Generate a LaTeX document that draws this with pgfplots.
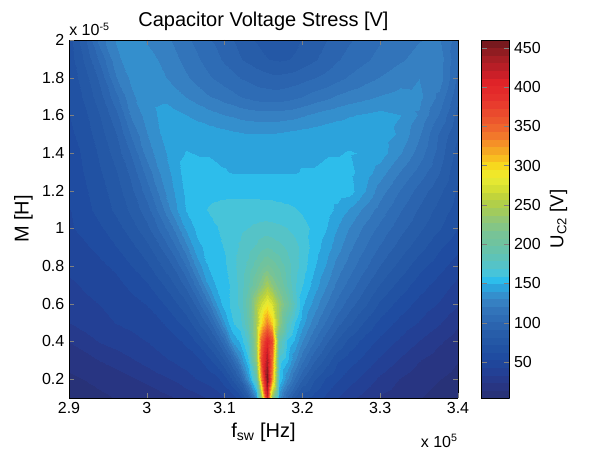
\documentclass[border=0pt]{standalone}
\usepackage{fontspec}
\setmainfont{Liberation Sans}
\usepackage{pgfplots}
\usepackage{pgfplotstable}
\pgfplotsset{compat=1.18}
\pgfplotstableread{
x y z
2.90 0.1 8
2.92 0.1 10
2.94 0.1 12
2.96 0.1 14
2.98 0.1 16
3.00 0.1 17
3.02 0.1 20
3.035 0.1 23
3.05 0.1 27
3.065 0.1 30
3.08 0.1 34
3.09 0.1 38
3.10 0.1 43
3.11 0.1 47
3.12 0.1 57
3.13 0.1 80
3.14 0.1 132
3.147 0.1 230
3.154 0.1 415
3.161 0.1 230
3.17 0.1 135
3.18 0.1 100
3.19 0.1 80
3.20 0.1 65
3.215 0.1 58
3.23 0.1 50
3.245 0.1 43
3.26 0.1 36
3.28 0.1 29
3.30 0.1 22
3.325 0.1 17
3.35 0.1 14
3.375 0.1 11
3.40 0.1 8
2.90 0.2 12
2.92 0.2 14
2.94 0.2 16
2.96 0.2 18
2.98 0.2 22
3.00 0.2 26
3.02 0.2 31
3.035 0.2 34
3.05 0.2 39
3.065 0.2 43
3.08 0.2 47
3.09 0.2 50
3.10 0.2 59
3.11 0.2 73
3.12 0.2 93
3.13 0.2 137
3.14 0.2 185
3.147 0.2 330
3.154 0.2 458
3.161 0.2 330
3.17 0.2 160
3.18 0.2 132
3.19 0.2 109
3.20 0.2 92
3.215 0.2 73
3.23 0.2 61
3.245 0.2 54
3.26 0.2 47
3.28 0.2 39
3.30 0.2 31
3.325 0.2 23
3.35 0.2 17
3.375 0.2 14
3.40 0.2 11
2.90 0.3 17
2.92 0.3 19
2.94 0.3 24
2.96 0.3 28
2.98 0.3 32
3.00 0.3 37
3.02 0.3 41
3.035 0.3 44
3.05 0.3 47
3.065 0.3 50
3.08 0.3 60
3.09 0.3 69
3.10 0.3 83
3.11 0.3 100
3.12 0.3 130
3.13 0.3 158
3.14 0.3 230
3.147 0.3 365
3.154 0.3 432
3.161 0.3 345
3.17 0.3 165
3.18 0.3 152
3.19 0.3 131
3.20 0.3 114
3.215 0.3 93
3.23 0.3 78
3.245 0.3 64
3.26 0.3 57
3.28 0.3 49
3.30 0.3 41
3.325 0.3 32
3.35 0.3 24
3.375 0.3 18
3.40 0.3 14
2.90 0.4 24
2.92 0.4 29
2.94 0.4 34
2.96 0.4 37
2.98 0.4 40
3.00 0.4 43
3.02 0.4 47
3.035 0.4 49
3.05 0.4 55
3.065 0.4 64
3.08 0.4 78
3.09 0.4 91
3.10 0.4 112
3.11 0.4 140
3.12 0.4 152
3.13 0.4 172
3.14 0.4 240
3.147 0.4 350
3.154 0.4 400
3.161 0.4 368
3.17 0.4 190
3.18 0.4 158
3.19 0.4 147
3.20 0.4 131
3.215 0.4 111
3.23 0.4 94
3.245 0.4 81
3.26 0.4 69
3.28 0.4 58
3.30 0.4 50
3.325 0.4 41
3.35 0.4 33
3.375 0.4 25
3.40 0.4 18
2.90 0.5 33
2.92 0.5 37
2.94 0.5 40
2.96 0.5 43
2.98 0.5 45
3.00 0.5 48
3.02 0.5 52
3.035 0.5 59
3.05 0.5 66
3.065 0.5 79
3.08 0.5 96
3.09 0.5 117
3.10 0.5 141
3.11 0.5 158
3.12 0.5 165
3.13 0.5 190
3.14 0.5 242
3.147 0.5 295
3.154 0.5 335
3.161 0.5 305
3.17 0.5 232
3.18 0.5 180
3.19 0.5 158
3.20 0.5 144
3.215 0.5 125
3.23 0.5 109
3.245 0.5 95
3.26 0.5 84
3.28 0.5 70
3.30 0.5 59
3.325 0.5 49
3.35 0.5 42
3.375 0.5 34
3.40 0.5 25
2.90 0.6 38
2.92 0.6 41
2.94 0.6 43
2.96 0.6 46
2.98 0.6 49
3.00 0.6 53
3.02 0.6 61
3.035 0.6 69
3.05 0.6 80
3.065 0.6 95
3.08 0.6 120
3.09 0.6 142
3.10 0.6 155
3.11 0.6 162
3.12 0.6 172
3.13 0.6 195
3.14 0.6 245
3.147 0.6 268
3.154 0.6 288
3.161 0.6 273
3.17 0.6 235
3.18 0.6 205
3.19 0.6 175
3.20 0.6 152
3.215 0.6 136
3.23 0.6 121
3.245 0.6 108
3.26 0.6 96
3.28 0.6 83
3.30 0.6 70
3.325 0.6 58
3.35 0.6 49
3.375 0.6 42
3.40 0.6 34
2.90 0.7 41
2.92 0.7 44
2.94 0.7 46
2.96 0.7 49
2.98 0.7 55
3.00 0.7 61
3.02 0.7 71
3.035 0.7 81
3.05 0.7 94
3.065 0.7 115
3.08 0.7 142
3.09 0.7 152
3.10 0.7 155
3.11 0.7 162
3.12 0.7 172
3.13 0.7 186
3.14 0.7 210
3.147 0.7 225
3.154 0.7 245
3.161 0.7 228
3.17 0.7 210
3.18 0.7 188
3.19 0.7 170
3.20 0.7 160
3.215 0.7 145
3.23 0.7 131
3.245 0.7 118
3.26 0.7 107
3.28 0.7 93
3.30 0.7 81
3.325 0.7 68
3.35 0.7 57
3.375 0.7 48
3.40 0.7 40
2.90 0.8 45
2.92 0.8 47
2.94 0.8 50
2.96 0.8 55
2.98 0.8 62
3.00 0.8 70
3.02 0.8 82
3.035 0.8 93
3.05 0.8 111
3.065 0.8 134
3.08 0.8 151
3.09 0.8 155
3.10 0.8 158
3.11 0.8 165
3.12 0.8 173
3.13 0.8 181
3.14 0.8 193
3.147 0.8 202
3.154 0.8 210
3.161 0.8 205
3.17 0.8 196
3.18 0.8 184
3.19 0.8 173
3.20 0.8 165
3.215 0.8 151
3.23 0.8 139
3.245 0.8 126
3.26 0.8 116
3.28 0.8 103
3.30 0.8 91
3.325 0.8 78
3.35 0.8 66
3.375 0.8 56
3.40 0.8 47
2.90 0.9 48
2.92 0.9 51
2.94 0.9 56
2.96 0.9 62
2.98 0.9 69
3.00 0.9 79
3.02 0.9 93
3.035 0.9 108
3.05 0.9 127
3.065 0.9 147
3.08 0.9 153
3.09 0.9 157
3.10 0.9 160
3.11 0.9 165
3.12 0.9 170
3.13 0.9 175
3.14 0.9 180
3.147 0.9 185
3.154 0.9 188
3.161 0.9 186
3.17 0.9 182
3.18 0.9 177
3.19 0.9 172
3.20 0.9 166
3.215 0.9 155
3.23 0.9 145
3.245 0.9 134
3.26 0.9 123
3.28 0.9 111
3.30 0.9 100
3.325 0.9 87
3.35 0.9 76
3.375 0.9 64
3.40 0.9 55
2.90 1.0 51
2.92 1.0 56
2.94 1.0 61
2.96 1.0 68
2.98 1.0 77
3.00 1.0 89
3.02 1.0 106
3.035 1.0 122
3.05 1.0 142
3.065 1.0 152
3.08 1.0 156
3.09 1.0 159
3.10 1.0 162
3.11 1.0 165
3.12 1.0 167
3.13 1.0 169
3.14 1.0 171
3.147 1.0 172
3.154 1.0 173
3.161 1.0 172
3.17 1.0 171
3.18 1.0 169
3.19 1.0 166
3.20 1.0 163
3.215 1.0 157
3.23 1.0 150
3.245 1.0 140
3.26 1.0 130
3.28 1.0 118
3.30 1.0 108
3.325 1.0 95
3.35 1.0 84
3.375 1.0 73
3.40 1.0 62
2.90 1.1 52
2.92 1.1 59
2.94 1.1 66
2.96 1.1 74
2.98 1.1 84
3.00 1.1 97
3.02 1.1 118
3.035 1.1 136
3.05 1.1 150
3.065 1.1 156
3.08 1.1 160
3.09 1.1 161
3.10 1.1 162
3.11 1.1 163
3.12 1.1 163
3.13 1.1 163
3.14 1.1 163
3.147 1.1 163
3.154 1.1 163
3.161 1.1 163
3.17 1.1 162
3.18 1.1 161
3.19 1.1 160
3.20 1.1 158
3.215 1.1 156
3.23 1.1 154
3.245 1.1 147
3.26 1.1 139
3.28 1.1 127
3.30 1.1 116
3.325 1.1 102
3.35 1.1 90
3.375 1.1 78
3.40 1.1 67
2.90 1.2 54
2.92 1.2 61
2.94 1.2 68
2.96 1.2 77
2.98 1.2 89
3.00 1.2 106
3.02 1.2 127
3.035 1.2 140
3.05 1.2 152
3.065 1.2 155
3.08 1.2 157
3.09 1.2 157
3.10 1.2 157
3.11 1.2 157
3.12 1.2 157
3.13 1.2 157
3.14 1.2 157
3.147 1.2 156
3.154 1.2 156
3.161 1.2 156
3.17 1.2 156
3.18 1.2 156
3.19 1.2 155
3.20 1.2 155
3.215 1.2 155
3.23 1.2 155
3.245 1.2 155
3.26 1.2 154
3.28 1.2 140
3.30 1.2 125
3.325 1.2 110
3.35 1.2 97
3.375 1.2 84
3.40 1.2 70
2.90 1.3 56
2.92 1.3 63
2.94 1.3 71
2.96 1.3 81
2.98 1.3 94
3.00 1.3 115
3.02 1.3 133
3.035 1.3 143
3.05 1.3 155
3.065 1.3 154
3.08 1.3 152
3.09 1.3 151
3.10 1.3 150
3.11 1.3 149
3.12 1.3 149
3.13 1.3 149
3.14 1.3 149
3.147 1.3 149
3.154 1.3 149
3.161 1.3 149
3.17 1.3 149
3.18 1.3 149
3.19 1.3 149
3.20 1.3 150
3.215 1.3 150
3.23 1.3 151
3.245 1.3 152
3.26 1.3 152
3.28 1.3 145
3.30 1.3 135
3.325 1.3 120
3.35 1.3 107
3.375 1.3 92
3.40 1.3 73
2.90 1.4 58
2.92 1.4 64
2.94 1.4 74
2.96 1.4 86
2.98 1.4 102
3.00 1.4 125
3.02 1.4 137
3.035 1.4 145
3.05 1.4 150
3.065 1.4 149
3.08 1.4 149
3.09 1.4 148
3.10 1.4 148
3.11 1.4 148
3.12 1.4 147
3.13 1.4 147
3.14 1.4 147
3.147 1.4 147
3.154 1.4 147
3.161 1.4 147
3.17 1.4 147
3.18 1.4 147
3.19 1.4 148
3.20 1.4 148
3.215 1.4 148
3.23 1.4 149
3.245 1.4 149
3.26 1.4 150
3.28 1.4 149
3.30 1.4 145
3.325 1.4 131
3.35 1.4 116
3.375 1.4 97
3.40 1.4 77
2.90 1.5 60
2.92 1.5 67
2.94 1.5 78
2.96 1.5 91
2.98 1.5 112
3.00 1.5 130
3.02 1.5 141
3.035 1.5 145
3.05 1.5 147
3.065 1.5 146
3.08 1.5 145
3.09 1.5 144
3.10 1.5 143
3.11 1.5 142
3.12 1.5 141
3.13 1.5 140
3.14 1.5 140
3.147 1.5 140
3.154 1.5 140
3.161 1.5 140
3.17 1.5 141
3.18 1.5 142
3.19 1.5 143
3.20 1.5 144
3.215 1.5 145
3.23 1.5 146
3.245 1.5 147
3.26 1.5 147
3.28 1.5 147
3.30 1.5 146
3.325 1.5 138
3.35 1.5 122
3.375 1.5 100
3.40 1.5 82
2.90 1.6 62
2.92 1.6 70
2.94 1.6 82
2.96 1.6 98
2.98 1.6 122
3.00 1.6 134
3.02 1.6 143
3.035 1.6 143
3.05 1.6 140
3.065 1.6 137
3.08 1.6 134
3.09 1.6 132
3.10 1.6 130
3.11 1.6 129
3.12 1.6 127
3.13 1.6 126
3.14 1.6 125
3.147 1.6 125
3.154 1.6 125
3.161 1.6 125
3.17 1.6 125
3.18 1.6 126
3.19 1.6 127
3.20 1.6 129
3.215 1.6 132
3.23 1.6 135
3.245 1.6 137
3.26 1.6 139
3.28 1.6 141
3.30 1.6 143
3.325 1.6 140
3.35 1.6 129
3.375 1.6 110
3.40 1.6 87
2.90 1.7 63
2.92 1.7 74
2.94 1.7 88
2.96 1.7 108
2.98 1.7 128
3.00 1.7 136
3.02 1.7 138
3.035 1.7 134
3.05 1.7 130
3.065 1.7 126
3.08 1.7 121
3.09 1.7 119
3.10 1.7 116
3.11 1.7 114
3.12 1.7 111
3.13 1.7 109
3.14 1.7 107
3.147 1.7 106
3.154 1.7 106
3.161 1.7 106
3.17 1.7 106
3.18 1.7 107
3.19 1.7 109
3.20 1.7 111
3.215 1.7 115
3.23 1.7 118
3.245 1.7 122
3.26 1.7 125
3.28 1.7 128
3.30 1.7 131
3.325 1.7 134
3.35 1.7 133
3.375 1.7 118
3.40 1.7 93
2.90 1.8 65
2.92 1.8 78
2.94 1.8 94
2.96 1.8 120
2.98 1.8 132
3.00 1.8 138
3.02 1.8 132
3.035 1.8 127
3.05 1.8 122
3.065 1.8 117
3.08 1.8 112
3.09 1.8 109
3.10 1.8 106
3.11 1.8 104
3.12 1.8 101
3.13 1.8 99
3.14 1.8 97
3.147 1.8 96
3.154 1.8 95
3.161 1.8 94
3.17 1.8 94
3.18 1.8 95
3.19 1.8 96
3.20 1.8 98
3.215 1.8 101
3.23 1.8 104
3.245 1.8 108
3.26 1.8 112
3.28 1.8 117
3.30 1.8 121
3.325 1.8 126
3.35 1.8 130
3.375 1.8 126
3.40 1.8 98
2.90 1.9 67
2.92 1.9 84
2.94 1.9 104
2.96 1.9 127
2.98 1.9 137
3.00 1.9 135
3.02 1.9 128
3.035 1.9 123
3.05 1.9 117
3.065 1.9 112
3.08 1.9 106
3.09 1.9 103
3.10 1.9 99
3.11 1.9 96
3.12 1.9 92
3.13 1.9 89
3.14 1.9 86
3.147 1.9 84
3.154 1.9 82
3.161 1.9 81
3.17 1.9 80
3.18 1.9 81
3.19 1.9 83
3.20 1.9 86
3.215 1.9 90
3.23 1.9 95
3.245 1.9 100
3.26 1.9 104
3.28 1.9 109
3.30 1.9 114
3.325 1.9 119
3.35 1.9 124
3.375 1.9 126
3.40 1.9 102
2.90 2.0 68
2.92 2.0 90
2.94 2.0 116
2.96 2.0 131
2.98 2.0 136
3.00 2.0 129
3.02 2.0 124
3.035 2.0 119
3.05 2.0 113
3.065 2.0 108
3.08 2.0 102
3.09 2.0 99
3.10 2.0 95
3.11 2.0 92
3.12 2.0 88
3.13 2.0 84
3.14 2.0 81
3.147 2.0 79
3.154 2.0 78
3.161 2.0 77
3.17 2.0 76
3.18 2.0 77
3.19 2.0 79
3.20 2.0 82
3.215 2.0 86
3.23 2.0 91
3.245 2.0 96
3.26 2.0 100
3.28 2.0 105
3.30 2.0 110
3.325 2.0 115
3.35 2.0 120
3.375 2.0 122
3.40 2.0 105
}\stressdata
\begin{document}
\begin{tikzpicture}
\begin{axis}[
  name=main,
  scale only axis,
  width=291.75pt, height=268.5pt,
  xmin=2.9, xmax=3.4, ymin=0.1, ymax=2,
  view={0}{90},
  axis on top,
  xtick={2.9,3,3.1,3.2,3.3,3.4},
  ytick={0.2,0.4,0.6,0.8,1,1.2,1.4,1.6,1.8,2},
  /pgf/number format/assume math mode=true,
  tick label style={font=\fontsize{12}{14}\selectfont},
  tick align=inside,
  major tick length=4pt,
  title={Capacitor Voltage Stress [V]},
  title style={font=\fontsize{15}{17}\selectfont, at={(0.5,1)}, anchor=base, yshift=3.75pt},
  xlabel={f\textsubscript{sw} [Hz]},
  ylabel={M [H]},
  label style={font=\fontsize{15}{17}\selectfont},
  colormap={soft}{rgb255=(40,50,120) rgb255=(40,53,130) rgb255=(38,58,140) rgb255=(35,64,149) rgb255=(32,70,155) rgb255=(31,76,161) rgb255=(33,82,163) rgb255=(36,88,166) rgb255=(39,93,169) rgb255=(43,100,175) rgb255=(46,108,181) rgb255=(50,116,186) rgb255=(54,128,194) rgb255=(52,143,205) rgb255=(44,163,220) rgb255=(45,189,235) rgb255=(71,196,217) rgb255=(85,195,199) rgb255=(94,195,183) rgb255=(103,195,170) rgb255=(112,195,158) rgb255=(119,195,151) rgb255=(132,197,134) rgb255=(146,199,116) rgb255=(161,203,93) rgb255=(177,207,73) rgb255=(193,212,59) rgb255=(212,223,51) rgb255=(228,232,50) rgb255=(240,231,41) rgb255=(247,216,30) rgb255=(248,190,32) rgb255=(245,167,35) rgb255=(245,144,39) rgb255=(242,120,43) rgb255=(239,102,45) rgb255=(236,87,45) rgb255=(234,74,45) rgb255=(232,60,45) rgb255=(229,48,44) rgb255=(227,41,42) rgb255=(223,35,40) rgb255=(203,31,40) rgb255=(184,30,38) rgb255=(166,30,36) rgb255=(144,28,33) rgb255=(120,25,30)},
  colormap access=piecewise constant,
  point meta min=4, point meta max=460,
  colorbar,
  colorbar style={
    at={(parent axis.north east)}, anchor=north west, xshift=9pt,
    width=21pt,
    ytick={50,100,...,450},
    /pgf/number format/assume math mode=true,
    yticklabel style={font=\fontsize{12}{14}\selectfont},
    ytick align=inside, ytick pos=both, yticklabel pos=right,
    major tick length=4pt,
    ylabel={U\textsubscript{C2} [V]},
    ylabel near ticks,
    ylabel style={font=\fontsize{14}{16}\selectfont},
  },
]
\addplot3[surf, shader=interp, mesh/cols=34] table[x=x, y=y, z=z] {\stressdata};
\end{axis}
\node[anchor=base west, font=\fontsize{12}{14}\selectfont, inner sep=0pt] at ([yshift=3pt]main.north west) {x 10\textsuperscript{-5}};
\node[anchor=base east, font=\fontsize{12}{14}\selectfont, inner sep=0pt] at ([yshift=-37pt]main.south east) {x 10\textsuperscript{5}};
\pgfresetboundingbox
\path ([shift={(-51.75pt,-39.75pt)}]main.south west) rectangle ([shift={(99pt,30pt)}]main.north east);
\end{tikzpicture}
\end{document}
